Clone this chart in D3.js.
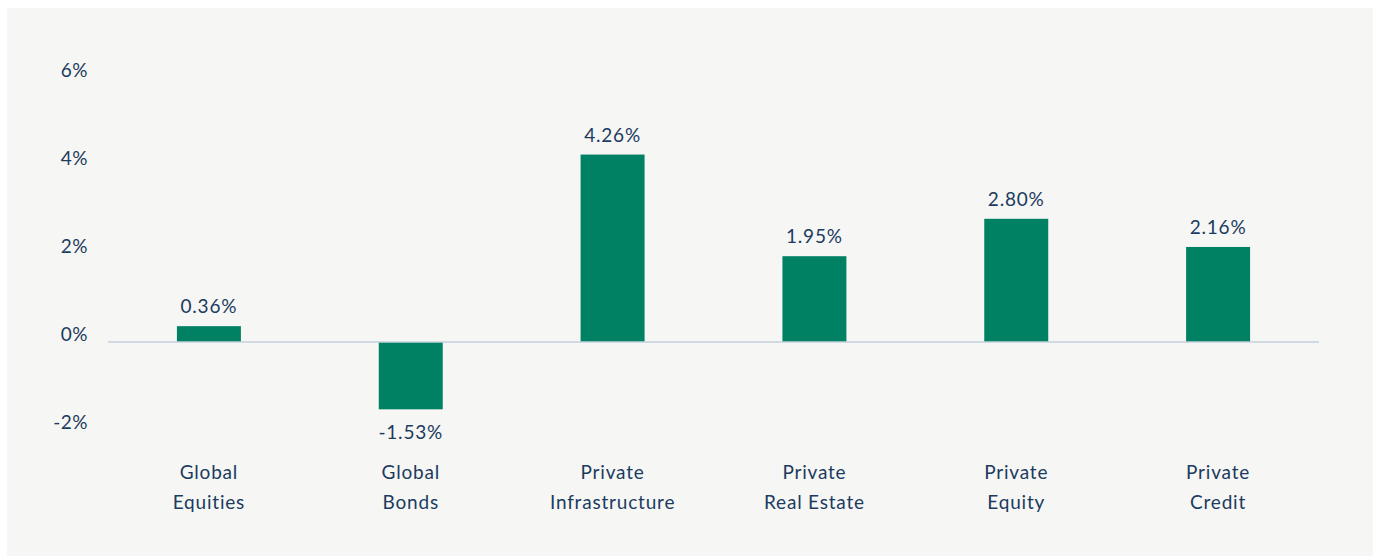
<!DOCTYPE html>
<html>
<head>
<meta charset="utf-8">
<script src="https://cdn.jsdelivr.net/npm/d3@7/dist/d3.min.js"></script>
<style>
  html, body { margin: 0; padding: 0; background: #ffffff; }
  svg { display: block; }
  text { font-family: Lato, "Open Sans", sans-serif; fill: #1b3b60; }
</style>
</head>
<body>
<svg id="chart" width="1376" height="556"></svg>
<script>
// Category labels (two lines each)
const categories = [
  ["Global", "Equities"],
  ["Global", "Bonds"],
  ["Private", "Infrastructure"],
  ["Private", "Real Estate"],
  ["Private", "Equity"],
  ["Private", "Credit"]
];
// Values in percent
const values = [0.36, -1.53, 4.26, 1.95, 2.80, 2.16];
// Y-axis ticks in percent
const yTicks = [-2, 0, 2, 4, 6];

const svg = d3.select("#chart");
const W = 1376, H = 556;

// Panel background
svg.append("rect")
  .attr("x", 7).attr("y", 8)
  .attr("width", 1366).attr("height", H - 8)
  .attr("fill", "#f6f6f4");

const x = d3.scaleBand()
  .domain(d3.range(categories.length))
  .range([108, 1319])
  .paddingInner(0.683)
  .paddingOuter(0.3415);

const y = d3.scaleLinear()
  .domain([-2, 6])
  .range([430, 78]);

// Y-axis tick labels
svg.append("g").selectAll("text")
  .data(yTicks)
  .join("text")
  .attr("x", 88)
  .attr("y", d => y(d) - 1)
  .attr("text-anchor", "end")
  .attr("font-size", 19)
  .attr("letter-spacing", 0.5)
  .text(d => d + "%");

// Bars
svg.append("g").selectAll("rect")
  .data(values)
  .join("rect")
  .attr("x", (d, i) => x(i))
  .attr("width", x.bandwidth())
  .attr("y", d => y(Math.max(0, d)))
  .attr("height", d => Math.abs(y(d) - y(0)))
  .attr("fill", "#008163");

// Zero baseline
svg.append("line")
  .attr("x1", 108).attr("x2", 1319)
  .attr("y1", y(0)).attr("y2", y(0))
  .attr("stroke", "#c3d0dd")
  .attr("stroke-width", 1.3);

// Value labels
svg.append("g").selectAll("text")
  .data(values)
  .join("text")
  .attr("x", (d, i) => x(i) + x.bandwidth() / 2)
  .attr("y", d => d >= 0 ? y(d) - 13 : y(d) + 30)
  .attr("text-anchor", "middle")
  .attr("font-size", 19)
  .attr("letter-spacing", 0.8)
  .text(d => d.toFixed(2) + "%");

// Category labels
const cat = svg.append("g").selectAll("text")
  .data(categories)
  .join("text")
  .attr("text-anchor", "middle")
  .attr("font-size", 19)
  .attr("letter-spacing", 0.8);
cat.each(function(lines, i) {
  const t = d3.select(this);
  lines.forEach((ln, k) => {
    t.append("tspan")
      .attr("x", x(i) + x.bandwidth() / 2)
      .attr("y", 479 + k * 30)
      .text(ln);
  });
});
</script>
</body>
</html>
